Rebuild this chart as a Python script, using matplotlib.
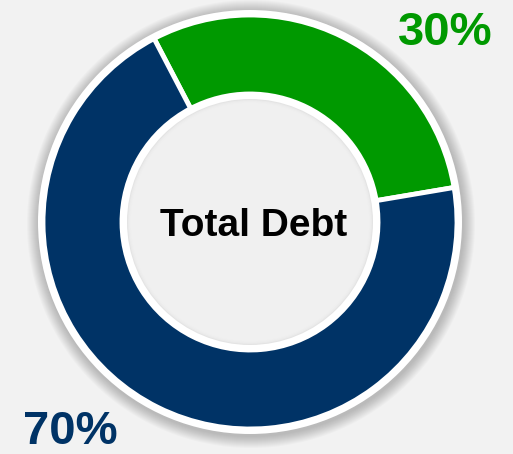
import matplotlib.pyplot as plt
from matplotlib.patches import Circle

labels = ['Other', 'Total Debt']
shares = [30, 70]
colors = ['#009900', '#003366']
pct_labels = ['30%', '70%']
center_title = 'Total Debt'

plt.rcParams['font.family'] = ['Liberation Sans', 'DejaVu Sans']

bg = '#f2f2f2'
fig = plt.figure(figsize=(5.13, 4.54), dpi=100, facecolor=bg)
ax = fig.add_axes([0, 0, 1, 1])
ax.set_xlim(0, 513)
ax.set_ylim(0, 454)
ax.set_facecolor(bg)
ax.axis('off')

cx, cy = 250, 232
R = 207
r_in = 128

# soft shadow around the ring
for i in range(12):
    ax.add_patch(Circle((cx + 1, cy - 2), R + 5 + 12 - i, facecolor='#000000',
                        alpha=0.018, edgecolor='none', zorder=0))
ax.add_patch(Circle((cx, cy), R + 5, facecolor='white', edgecolor='none', zorder=1))

ax.pie(shares, colors=colors, startangle=117.6, counterclock=False,
       center=(cx, cy), radius=R, frame=True,
       wedgeprops=dict(width=R - r_in, edgecolor='white', linewidth=3.5))
ax.set_xlim(0, 513)
ax.set_ylim(0, 454)
ax.axis('off')

# inner disc with white border and faint inner shadow
ax.add_patch(Circle((cx, cy), r_in, facecolor='white', edgecolor='none', zorder=3))
ax.add_patch(Circle((cx, cy), r_in - 5, facecolor='#e4e4e4', edgecolor='none', zorder=4))
for i in range(5):
    ax.add_patch(Circle((cx, cy), r_in - 6 - i, facecolor=bg, alpha=0.45,
                        edgecolor='none', zorder=5))

ax.text(cx + 4, 454 - 226, center_title, ha='center', va='center',
        fontsize=28, fontweight='bold', color='black', zorder=6)
ax.text(445, 454 - 33, pct_labels[0], ha='center', va='center',
        fontsize=34, fontweight='bold', color=colors[0], zorder=6)
ax.text(70, 454 - 432, pct_labels[1], ha='center', va='center',
        fontsize=34, fontweight='bold', color=colors[1], zorder=6)

fig.savefig('out.png', dpi=100, facecolor=bg)
